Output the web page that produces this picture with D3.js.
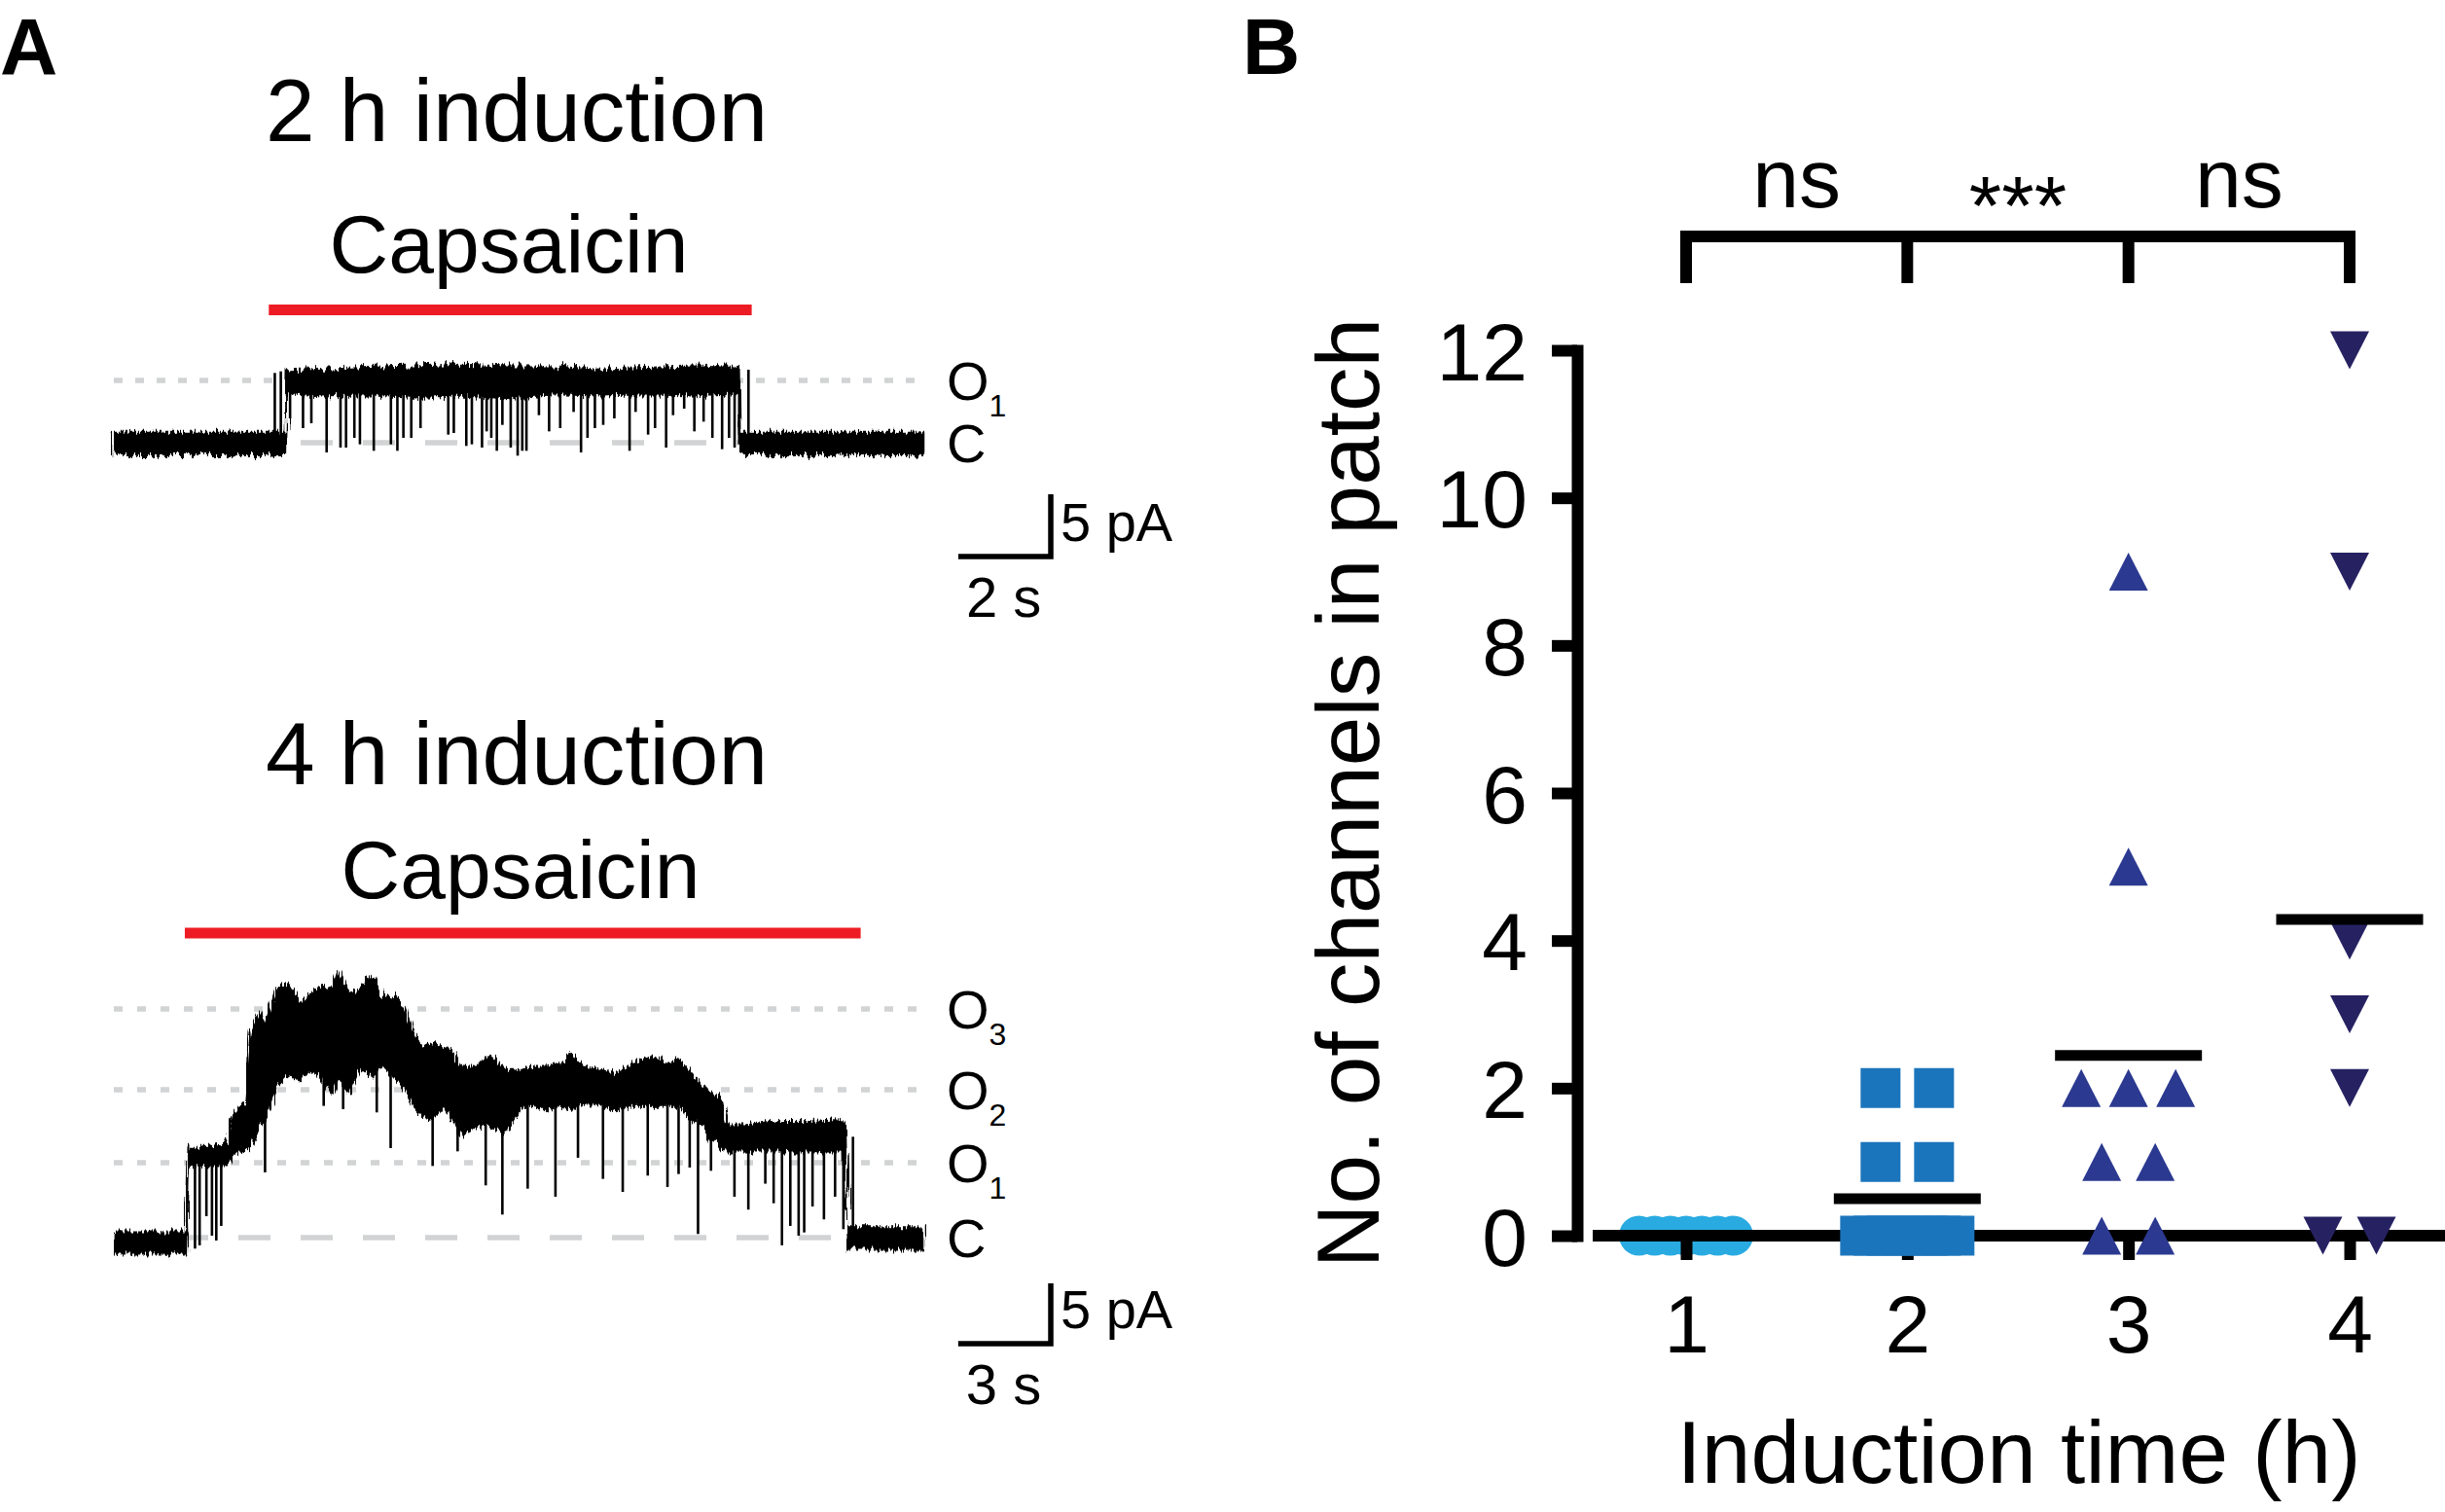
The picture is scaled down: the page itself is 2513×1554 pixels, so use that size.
<!DOCTYPE html>
<html>
<head>
<meta charset="utf-8">
<script src="https://cdn.jsdelivr.net/npm/d3@7"></script>
<style>
  html, body { margin: 0; padding: 0; background: #fff; }
  svg { display: block; }
  text { font-family: "Liberation Sans", Arial, Helvetica, sans-serif; fill: #000; }
</style>
</head>
<body>
<svg id="fig" width="2513" height="1554"></svg>
<script>
// ---- panel A, 2 h induction (time in s, current in pA) ----
var trace2hTime  = [0, 3.72, 3.74, 4.5, 5.5, 6.5, 7.5, 8.5, 9.5, 10.5, 11.5, 12.5, 13.53, 13.55, 17.5];
var trace2hUpper = [0.78, 0.78, 5.73, 5.86, 5.99, 6.12, 6.25, 6.12, 6.12, 5.86, 5.99, 6.12, 5.99, 0.78, 0.78];
var trace2hLower = [-0.91, -0.91, 4.00, 3.80, 3.90, 3.70, 3.80, 3.60, 3.90, 3.80, 3.90, 3.80, 4.00, -0.91, -0.91];
// brief closings [time, lowest current]
var closings2h = [[3.81,1.95],[4.09,1.17],[4.27,1.56],[4.60,-0.78],[4.90,-0.39],[5.02,-0.39],[5.20,0.39],
  [5.32,-0.13],[5.62,-0.65],[5.99,-0.13],[6.13,-0.65],[6.26,0.39],[6.43,0.39],[6.63,1.17],[6.89,3.78],
  [7.23,0.65],[7.35,0.78],[7.62,-0.26],[7.74,-0.13],[7.96,-0.39],[8.06,0.91],[8.16,0.39],[8.28,-0.65],
  [8.40,1.43],[8.58,-0.39],[8.73,-1.04],[8.83,-0.65],[8.92,-0.65],[9.19,2.21],[9.41,0.91],[9.65,1.17],
  [9.94,2.47],[10.10,-0.78],[10.24,0.39],[10.40,1.17],[10.58,1.43],[10.82,1.95],[11.15,-0.65],[11.28,2.47],
  [11.55,0.65],[11.70,1.17],[11.94,-0.39],[12.09,2.21],[12.33,2.73],[12.55,0.91],[12.75,1.69],[12.94,0.39],
  [13.15,-0.52],[13.30,0.39],[13.42,-0.39],[13.52,-0.13]];
// brief openings [time, highest current]
var openings2h = [[3.48,5.6],[3.61,5.73],[13.72,5.86]];
var levels2h = [0, 5.0];
var levelNames2h = [["C",""],["O","1"]];
var capsaicin2h = [3.35, 13.79];

// ---- panel A, 4 h induction ----
var trace4hTime  = [0, 2.36, 2.42, 3.09, 3.63, 3.81, 4.08, 4.26, 4.44, 4.72, 4.90, 5.26, 5.62, 5.98, 6.35, 6.71,
  7.07, 7.25, 7.61, 7.98, 8.34, 8.70, 9.06, 9.42, 9.70, 9.97, 10.33, 10.69, 10.96, 11.24, 11.78, 12.14, 12.68,
  13.23, 13.59, 13.95, 14.50, 14.86, 15.22, 15.76, 16.31, 16.85, 17.39, 17.94, 18.39, 18.66, 19.02, 19.38,
  19.66, 19.84, 20.47, 21.20, 21.92, 22.64, 23.37, 23.70, 23.77, 26.23];
var trace4hUpper = [0.43, 0.43, 7.42, 7.42, 7.69, 9.84, 10.92, 10.92, 17.10, 18.71, 17.37, 20.59, 21.00, 19.52,
  20.06, 20.86, 20.59, 22.07, 20.06, 20.59, 21.80, 19.79, 20.06, 18.98, 16.83, 15.75, 16.02, 15.75, 15.49,
  14.14, 14.14, 15.22, 13.87, 13.87, 14.14, 14.14, 14.41, 15.22, 14.14, 13.87, 13.60, 14.41, 14.95, 14.41,
  14.68, 13.60, 12.53, 11.99, 11.45, 9.30, 9.30, 9.57, 9.57, 9.57, 9.71, 9.57, 0.84, 0.84];
var trace4hLower = [-1.31, -1.31, 6.08, 5.94, 5.94, 6.62, 7.15, 7.42, 7.69, 9.30, 9.84, 12.53, 13.60, 13.07,
  13.87, 13.34, 11.99, 13.34, 11.99, 14.14, 13.34, 14.41, 13.34, 12.53, 10.92, 10.11, 9.84, 10.92, 9.84,
  8.50, 9.30, 9.30, 8.77, 10.92, 10.92, 10.65, 10.92, 10.65, 11.19, 10.92, 10.65, 10.92, 10.92, 10.92,
  10.92, 9.84, 9.57, 8.23, 7.69, 7.15, 7.15, 7.15, 7.15, 7.15, 7.15, 7.15, -0.91, -0.91];
var closings4h = [[2.63,-0.91],[2.78,-0.64],[3.00,1.78],[3.18,0.16],[3.32,-0.24],[3.48,0.97],[4.90,5.41],
  [6.80,10.92],[7.43,10.65],[8.52,10.38],[8.97,7.42],[10.33,5.94],[11.14,7.15],[12.05,4.33],[12.59,1.91],
  [13.41,4.06],[14.31,3.39],[15.04,6.62],[15.85,4.87],[16.49,3.79],[17.30,5.14],[17.94,4.20],[18.30,5.27],
  [18.66,5.81],[18.93,0.30],[19.35,5.54],[20.11,3.39],[20.56,2.32],[21.11,4.47],[21.38,2.85],[21.65,-0.64],
  [21.92,0.97],[22.19,0.16],[22.37,0.43],[22.64,2.58],[23.01,1.51],[23.37,3.39],[23.64,0.70]];
var openings4h = [[23.95,8.36]];
var levels4h = [0, 6.2, 12.25, 18.95];
var levelNames4h = [["C",""],["O","1"],["O","2"],["O","3"]];
var capsaicin4h = [2.30, 24.2];

// ---- panel B ----
var groups = ["1", "2", "3", "4"];
var channels1h = [0, 0, 0, 0, 0, 0, 0];
var channels2h = [2, 2, 1, 1, 0, 0, 0, 0, 0, 0, 0, 0];
var channels3h = [9, 5, 2, 2, 2, 1, 1, 0, 0];
var channels4h = [12, 9, 4, 3, 2, 0, 0];
var yTicks = [0, 2, 4, 6, 8, 10, 12];
var comparisons = [["1", "2", "ns"], ["2", "3", "***"], ["3", "4", "ns"]];
var groupColors = ["#29abe2", "#1b75bc", "#2b3990", "#262262"];

var svg = d3.select("#fig");
var grey = "#d1d3d4";

// ragged edge for the recorded noise band
var filt = svg.append("defs").append("filter").attr("id", "rough")
  .attr("x", "-2%").attr("y", "-30%").attr("width", "104%").attr("height", "160%");
filt.append("feTurbulence").attr("type", "fractalNoise")
  .attr("baseFrequency", "0.45 0.02").attr("numOctaves", 2).attr("seed", 4).attr("result", "n");
filt.append("feDisplacementMap").attr("in", "SourceGraphic").attr("in2", "n")
  .attr("scale", 14).attr("xChannelSelector", "R").attr("yChannelSelector", "G");

function drawRecording(g, xs, ys, time, upper, lower, closings, openings, levels, names, caps, cfg) {
  // level guides
  levels.forEach(function(v, i) {
    g.append("line")
      .attr("x1", xs.range()[0]).attr("x2", xs.range()[1])
      .attr("y1", ys(v)).attr("y2", ys(v))
      .attr("stroke", grey).attr("stroke-width", 5.5)
      .attr("stroke-dasharray", i === 0 ? "33 31" : cfg.dots);
    var t = g.append("text")
      .attr("x", 973).attr("y", ys(v) + 20)
      .attr("font-size", 56).text(names[i][0]);
    if (names[i][1]) {
      t.append("tspan").attr("font-size", 32).attr("dy", 17).text(names[i][1]);
    }
  });

  // current trace: noise band + brief transitions
  var area = d3.area()
    .x(function(d, i) { return xs(time[i]); })
    .y0(function(d, i) { return ys(lower[i]); })
    .y1(function(d, i) { return ys(upper[i]); });
  g.append("path").datum(time).attr("d", area)
    .attr("fill", "#000").attr("stroke", "#000")
    .attr("stroke-width", 2.5).attr("stroke-linejoin", "round")
    .attr("filter", "url(#rough)");

  var bis = d3.bisector(function(d) { return d; }).left;
  function mid(t) {
    var i = Math.min(bis(time, t), time.length - 1);
    return (upper[i] + lower[i]) / 2;
  }
  g.selectAll("line.spike").data(closings.concat(openings)).join("line")
    .attr("class", "spike")
    .attr("x1", function(d) { return xs(d[0]); }).attr("x2", function(d) { return xs(d[0]); })
    .attr("y1", function(d) { return ys(mid(d[0])); })
    .attr("y2", function(d) { return ys(d[1]); })
    .attr("stroke", "#000").attr("stroke-width", 2.6);

  // capsaicin application
  g.append("rect")
    .attr("x", xs(caps[0])).attr("width", xs(caps[1]) - xs(caps[0]))
    .attr("y", cfg.barY - 5.5).attr("height", 11)
    .attr("fill", "#ed1c24");

  // scale bar
  var w = xs(cfg.sbT) - xs(0), h = ys(0) - ys(5);
  g.append("path")
    .attr("d", "M" + (cfg.sbX - w) + "," + cfg.sbY + "H" + cfg.sbX + "V" + (cfg.sbY - h))
    .attr("fill", "none").attr("stroke", "#000").attr("stroke-width", 5.5);
  g.append("text").attr("x", cfg.sbX + 10).attr("y", cfg.sbY - 16)
    .attr("font-size", 56).text("5 pA");
  g.append("text").attr("x", cfg.sbX - w + 8).attr("y", cfg.sbY + 62)
    .attr("font-size", 58).text(cfg.sbT + " s");

  g.append("text").attr("x", 531).attr("y", cfg.titleY)
    .attr("text-anchor", "middle").attr("font-size", 91).text(cfg.title);
  g.append("text").attr("x", cfg.capX).attr("y", cfg.capY)
    .attr("text-anchor", "middle").attr("font-size", 84).text("Capsaicin");
}

var xs2h = d3.scaleLinear().domain([0, 17.5]).range([117, 949]);
var ys2h = d3.scaleLinear().domain([0, 5]).range([455, 391]);
drawRecording(svg.append("g"), xs2h, ys2h, trace2hTime, trace2hUpper, trace2hLower,
  closings2h, openings2h, levels2h, levelNames2h, capsaicin2h,
  {dots: "9 13", barY: 318.5, sbX: 1080, sbY: 572, sbT: 2,
   title: "2 h induction", titleY: 145, capX: 523, capY: 280});

var xs4h = d3.scaleLinear().domain([0, 26.23]).range([117, 949]);
var ys4h = d3.scaleLinear().domain([0, 5]).range([1272, 1210]);
drawRecording(svg.append("g"), xs4h, ys4h, trace4hTime, trace4hUpper, trace4hLower,
  closings4h, openings4h, levels4h, levelNames4h, capsaicin4h,
  {dots: "9 15", barY: 959, sbX: 1080, sbY: 1381, sbT: 3,
   title: "4 h induction", titleY: 806, capX: 535, capY: 923});

svg.append("text").attr("x", 0).attr("y", 76)
  .attr("font-size", 82).attr("font-weight", "bold").text("A");
svg.append("text").attr("x", 1277).attr("y", 76)
  .attr("font-size", 82).attr("font-weight", "bold").text("B");

// ---- panel B scatter ----
var xB = d3.scalePoint().domain(groups).range([1733, 2415]);
var yB = d3.scaleLinear().domain([0, 12]).range([1270, 360]);

function spread(values) {
  var counts = d3.rollup(values, function(v) { return v.length; }, function(d) { return d; });
  var seen = new Map();
  return values.map(function(v) {
    var n = counts.get(v), k = seen.get(v) || 0;
    seen.set(v, k + 1);
    var step = n > 1 ? Math.min(55, 97 / (n - 1)) : 0;
    return {value: v, dx: (k - (n - 1) / 2) * step};
  });
}

var series = [channels1h, channels2h, channels3h, channels4h];
var shapes = [
  d3.symbol(d3.symbolCircle, Math.PI * 20.5 * 20.5)(),
  "M-20.5,-20.5H20.5V20.5H-20.5Z",
  "M0,-19.5L20,19.5H-20Z",
  "M0,19.5L20,-19.5H-20Z"
];

var yAxis = d3.axisLeft(yB).tickValues(yTicks).tickSize(26).tickSizeOuter(0).tickPadding(25);
var gy = svg.append("g").attr("transform", "translate(1621,0)").call(yAxis);
gy.select(".domain").attr("stroke-width", 12).attr("stroke-linecap", "square");
gy.selectAll(".tick line").attr("stroke-width", 12);
gy.selectAll(".tick text").attr("font-size", 84).attr("font-family", "Liberation Sans, Arial, sans-serif")
  .attr("dy", "0.36em");

function drawGroup(gi) {
  svg.append("g").selectAll("path").data(spread(series[gi])).join("path")
    .attr("d", shapes[gi])
    .attr("transform", function(d) { return "translate(" + (xB(groups[gi]) + d.dx) + "," + yB(d.value) + ")"; })
    .attr("fill", groupColors[gi]);
}

drawGroup(0);

// x axis through zero
var xAxis = d3.axisBottom(xB).tickSize(25).tickSizeOuter(0).tickPadding(35);
var gx = svg.append("g").attr("transform", "translate(0," + yB(0) + ")").call(xAxis);
gx.select(".domain").remove();
gx.selectAll(".tick line").attr("stroke-width", 12);
gx.selectAll(".tick text").attr("font-size", 84).attr("font-family", "Liberation Sans, Arial, sans-serif");
svg.append("line").attr("x1", 1637).attr("x2", 2513)
  .attr("y1", yB(0)).attr("y2", yB(0))
  .attr("stroke", "#000").attr("stroke-width", 12);

drawGroup(1); drawGroup(2); drawGroup(3);

// group means
svg.append("g").selectAll("line").data(series).join("line")
  .attr("x1", function(d, i) { return xB(groups[i]) - 75.5; })
  .attr("x2", function(d, i) { return xB(groups[i]) + 75.5; })
  .attr("y1", function(d) { return yB(d3.mean(d)); })
  .attr("y2", function(d) { return yB(d3.mean(d)); })
  .attr("stroke", "#000").attr("stroke-width", 11);

// significance bracket
var bracketY = 243;
svg.append("line").attr("x1", xB(groups[0]) - 6).attr("x2", xB(groups[3]) + 6)
  .attr("y1", bracketY).attr("y2", bracketY).attr("stroke", "#000").attr("stroke-width", 12);
svg.append("g").selectAll("line").data(groups).join("line")
  .attr("x1", function(d) { return xB(d); }).attr("x2", function(d) { return xB(d); })
  .attr("y1", bracketY).attr("y2", 291)
  .attr("stroke", "#000").attr("stroke-width", 12);
svg.append("g").selectAll("text").data(comparisons).join("text")
  .attr("x", function(d) { return (xB(d[0]) + xB(d[1])) / 2; })
  .attr("y", function(d) { return d[2] === "ns" ? 213 : 241; })
  .attr("text-anchor", "middle").attr("font-size", 86)
  .text(function(d) { return d[2]; });

svg.append("text")
  .attr("transform", "translate(1417,815) rotate(-90)")
  .attr("text-anchor", "middle").attr("font-size", 91)
  .text("No. of channels in patch");
svg.append("text").attr("x", 2075).attr("y", 1524)
  .attr("text-anchor", "middle").attr("font-size", 91)
  .text("Induction time (h)");
</script>
</body>
</html>
